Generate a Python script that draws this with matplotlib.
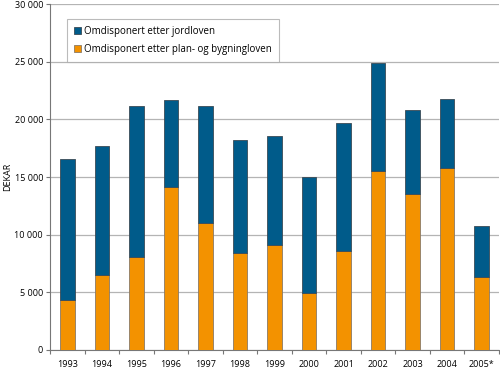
import matplotlib
matplotlib.use("Agg")
import matplotlib.pyplot as plt
import numpy as np

years = ["1993", "1994", "1995", "1996", "1997", "1998", "1999",
         "2000", "2001", "2002", "2003", "2004", "2005*"]
# totals (top of each stacked bar)
totals = [16550, 17700, 21200, 21650, 21130, 18180, 18530,
          14980, 19720, 24860, 20790, 21800, 10780]
plan_bygning = [4350, 6500, 8100, 14140, 10990, 8440, 9080,
                4920, 8560, 15550, 13560, 15780, 6300]
jordloven = [t - p for t, p in zip(totals, plan_bygning)]

BLUE = "#005b8a"
ORANGE = "#f39200"
GRID = "#b4b4b4"

plt.rcParams["font.family"] = ["Open Sans", "DejaVu Sans"]
plt.rcParams["font.size"] = 6.5

fig = plt.figure(figsize=(5, 3.69), dpi=100)
ax = fig.add_axes([0.1, 0.0515, 0.898, 0.9375])

x = np.arange(len(years))
w = 0.42
ax.bar(x, plan_bygning, w, color=ORANGE, edgecolor="#8a7a66", linewidth=0.6,
       label="Omdisponert etter plan- og bygningloven", zorder=3)
ax.bar(x, jordloven, w, bottom=plan_bygning, color=BLUE, edgecolor="#3a4a55",
       linewidth=0.6, label="Omdisponert etter jordloven", zorder=3)

ax.set_xlim(-0.5, len(years) - 0.5)
ax.set_ylim(0, 30000)
ax.set_yticks(range(0, 30001, 5000))
ax.set_yticklabels(["0" if v == 0 else f"{v // 1000} 000" for v in range(0, 30001, 5000)])
ax.yaxis.grid(True, color=GRID, linewidth=0.9, zorder=0)

ax.set_xticks(x)
ax.set_xticklabels(years)
ax.set_xticks(np.arange(-0.5, len(years)), minor=True)
ax.tick_params(axis="x", which="major", length=0, pad=7)
ax.tick_params(axis="x", which="minor", length=3, color="#777777", width=0.8)
ax.tick_params(axis="y", length=3, color="#777777", width=0.8, pad=2)

for s in ["top", "right"]:
    ax.spines[s].set_visible(False)
for s in ["left", "bottom"]:
    ax.spines[s].set_color("#777777")
    ax.spines[s].set_linewidth(0.8)

ax.set_ylabel("DEKAR", fontsize=6.5)
ax.yaxis.set_label_coords(-0.085, 0.5)

handles, labels = ax.get_legend_handles_labels()
leg = ax.legend(handles[::-1], labels[::-1], loc="upper left",
                bbox_to_anchor=(0.027, 0.97), frameon=True, fancybox=False,
                edgecolor="#aaaaaa", handlelength=0.7, handleheight=0.7,
                handletextpad=0.4, borderpad=0.7, labelspacing=0.7,
                fontsize=7)
leg.get_frame().set_linewidth(0.8)

fig.savefig("out.png", dpi=100)
